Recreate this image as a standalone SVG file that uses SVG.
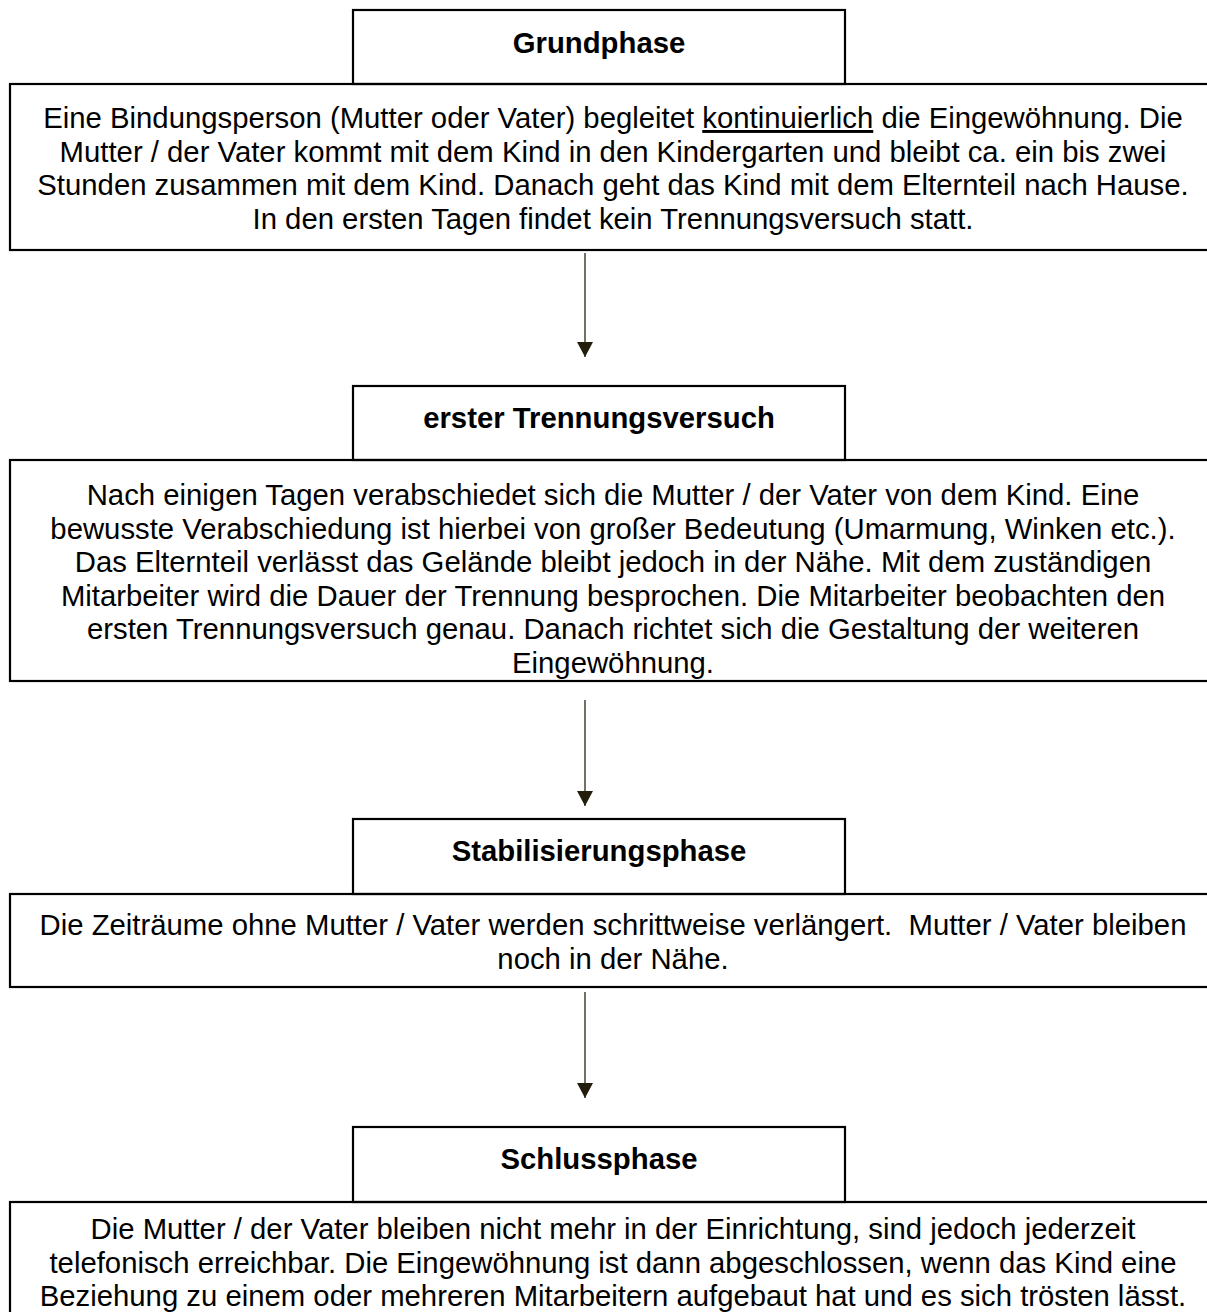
<svg xmlns="http://www.w3.org/2000/svg" width="1207" height="1312" viewBox="0 0 1207 1312">
<style>
.box{fill:none;stroke:#000;stroke-width:2.2}
.t{font-family:"Liberation Sans",Arial,sans-serif;font-size:29.3px;fill:#000;text-anchor:middle}
.b{font-weight:bold}
.conn{stroke:#2a2412;stroke-width:1.3;fill:none}
</style>
<defs>
<marker id="ah" markerWidth="15" markerHeight="16" refX="15" refY="8" orient="auto" markerUnits="userSpaceOnUse" viewBox="0 0 15 16">
<path d="M0,0 L15,8 L0,16 Z" fill="#231e0c"/>
</marker>
</defs>
<rect width="1207" height="1312" fill="#fff"/>

<g id="title1">
<rect class="box" x="353" y="10" width="492" height="74"/>
<text class="t b" x="599" y="53">Grundphase</text>
</g>
<g id="box1">
<rect class="box" x="10" y="84" width="1210" height="166"/>
<text class="t" x="613" y="128">Eine Bindungsperson (Mutter oder Vater) begleitet <tspan text-decoration="underline">kontinuierlich</tspan> die Eingewöhnung. Die</text>
<text class="t" x="613" y="161.5">Mutter / der Vater kommt mit dem Kind in den Kindergarten und bleibt ca. ein bis zwei</text>
<text class="t" x="613" y="195">Stunden zusammen mit dem Kind. Danach geht das Kind mit dem Elternteil nach Hause.</text>
<text class="t" x="613" y="228.5">In den ersten Tagen findet kein Trennungsversuch statt.</text>
</g>

<g id="title2">
<rect class="box" x="353" y="386" width="492" height="74"/>
<text class="t b" x="599" y="428">erster Trennungsversuch</text>
</g>
<g id="box2">
<rect class="box" x="10" y="460" width="1210" height="221"/>
<text class="t" x="613" y="505">Nach einigen Tagen verabschiedet sich die Mutter / der Vater von dem Kind. Eine</text>
<text class="t" x="613" y="538.5">bewusste Verabschiedung ist hierbei von großer Bedeutung (Umarmung, Winken etc.).</text>
<text class="t" x="613" y="572">Das Elternteil verlässt das Gelände bleibt jedoch in der Nähe. Mit dem zuständigen</text>
<text class="t" x="613" y="605.5">Mitarbeiter wird die Dauer der Trennung besprochen. Die Mitarbeiter beobachten den</text>
<text class="t" x="613" y="639">ersten Trennungsversuch genau. Danach richtet sich die Gestaltung der weiteren</text>
<text class="t" x="613" y="672.5">Eingewöhnung.</text>
</g>

<g id="title3">
<rect class="box" x="353" y="819" width="492" height="75"/>
<text class="t b" x="599" y="861">Stabilisierungsphase</text>
</g>
<g id="box3">
<rect class="box" x="10" y="894" width="1210" height="93"/>
<text class="t" x="613" y="935" style="white-space:pre">Die Zeiträume ohne Mutter / Vater werden schrittweise verlängert.  Mutter / Vater bleiben</text>
<text class="t" x="613" y="968.5">noch in der Nähe.</text>
</g>

<g id="title4">
<rect class="box" x="353" y="1127" width="492" height="75"/>
<text class="t b" x="599" y="1169">Schlussphase</text>
</g>
<g id="box4">
<rect class="box" x="10" y="1202" width="1210" height="130"/>
<text class="t" x="613" y="1239">Die Mutter / der Vater bleiben nicht mehr in der Einrichtung, sind jedoch jederzeit</text>
<text class="t" x="613" y="1272.5">telefonisch erreichbar. Die Eingewöhnung ist dann abgeschlossen, wenn das Kind eine</text>
<text class="t" x="613" y="1306">Beziehung zu einem oder mehreren Mitarbeitern aufgebaut hat und es sich trösten lässt.</text>
</g>

<g id="connectors">
<line class="conn" x1="585" y1="253" x2="585" y2="357" marker-end="url(#ah)"/>
<line class="conn" x1="585" y1="700" x2="585" y2="806" marker-end="url(#ah)"/>
<line class="conn" x1="585" y1="992" x2="585" y2="1098" marker-end="url(#ah)"/>
</g>
</svg>
